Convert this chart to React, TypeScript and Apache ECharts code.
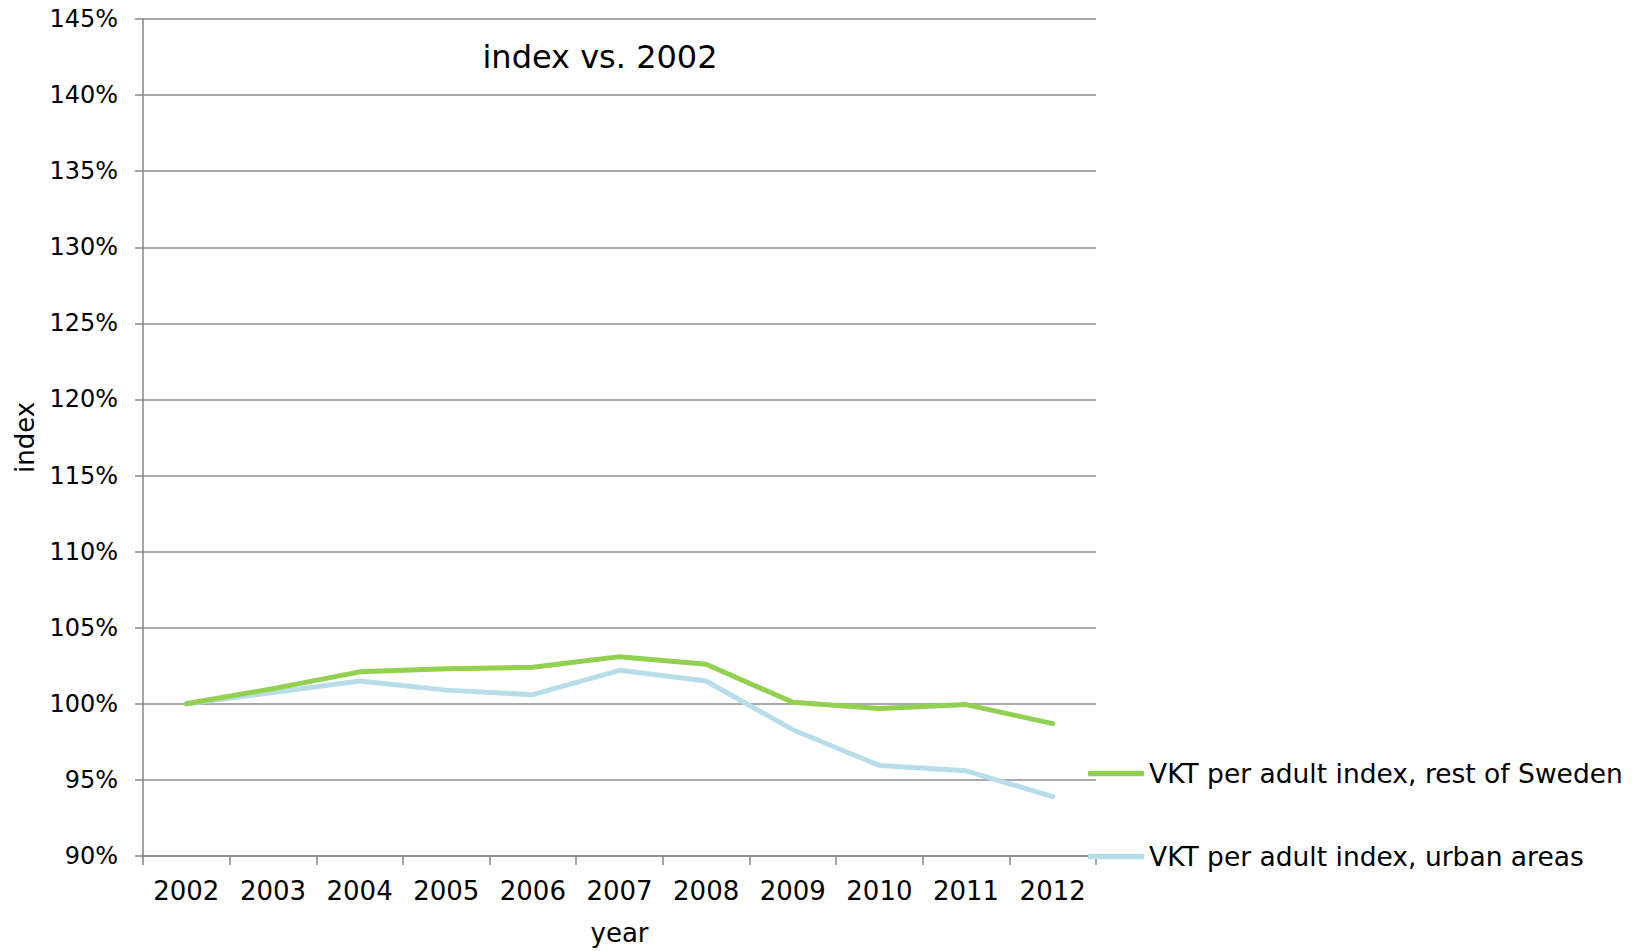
import React, { useEffect, useRef } from "react";
import * as echarts from "echarts";

const years = ["2002", "2003", "2004", "2005", "2006", "2007", "2008", "2009", "2010", "2011", "2012"];
const restOfSweden = [100.0, 101.0, 102.1, 102.3, 102.4, 103.1, 102.6, 100.1, 99.7, 99.95, 98.7];
const urbanAreas = [100.0, 100.75, 101.5, 100.9, 100.6, 102.2, 101.5, 98.3, 95.95, 95.6, 93.9];
const seriesNames = ["VKT per adult index, rest of Sweden", "VKT per adult index, urban areas"];
const seriesColors = ["#92D050", "#B7DEE8"];
const titleText = "index vs. 2002";

const FONT = "DejaVu Sans";
const AXIS_COLOR = "#868686";

export default function App() {
  const ref = useRef<HTMLDivElement>(null);
  useEffect(() => {
    if (!ref.current) return;
    const chart = echarts.init(ref.current, null, { renderer: "svg" });
    chart.setOption({
      animation: false,
      backgroundColor: "#ffffff",
      textStyle: { fontFamily: FONT, color: "#000" },
      grid: { left: 143, top: 19, right: 545, bottom: 92 },
      graphic: [
        {
          type: "text",
          x: 600,
          y: 57,
          style: {
            text: titleText,
            fontFamily: FONT,
            fontSize: 32,
            fill: "#000",
            textAlign: "center",
            textVerticalAlign: "middle",
          },
        },
      ],
      legend: {
        orient: "vertical",
        left: 1088,
        top: 760,
        padding: 0,
        icon: "roundRect",
        itemWidth: 56,
        itemHeight: 5.5,
        itemGap: 56,
        textStyle: { fontFamily: FONT, fontSize: 26.5, color: "#000", lineHeight: 27 },
        data: seriesNames,
      },
      xAxis: {
        type: "category",
        data: years,
        boundaryGap: true,
        name: "year",
        nameLocation: "middle",
        nameGap: 64,
        nameTextStyle: { fontFamily: FONT, fontSize: 26, color: "#000", lineHeight: 26 },
        axisLine: { lineStyle: { color: AXIS_COLOR, width: 1.5 } },
        axisTick: { show: true, length: 9, interval: 0, lineStyle: { color: AXIS_COLOR, width: 1.5 } },
        axisLabel: { fontFamily: FONT, fontSize: 26, color: "#000", margin: 22, interval: 0, lineHeight: 26 },
        splitLine: { show: false },
      },
      yAxis: {
        type: "value",
        min: 90,
        max: 145,
        interval: 5,
        name: "index",
        nameLocation: "middle",
        nameGap: 100,
        nameTextStyle: { fontFamily: FONT, fontSize: 26, color: "#000", lineHeight: 26 },
        axisLine: { show: true, lineStyle: { color: AXIS_COLOR, width: 1.5 } },
        axisTick: { show: true, length: 8, lineStyle: { color: AXIS_COLOR, width: 1.5 } },
        axisLabel: { fontFamily: FONT, fontSize: 24, color: "#000", margin: 25, formatter: "{value}%" },
        splitLine: { show: true, lineStyle: { color: "#8c8c8c", width: 1.5 } },
      },
      series: [
        {
          name: seriesNames[0],
          type: "line",
          data: restOfSweden,
          symbol: "none",
          showSymbol: false,
          itemStyle: { color: seriesColors[0] },
          lineStyle: { color: seriesColors[0], width: 5, cap: "round", join: "round" },
          z: 3,
        },
        {
          name: seriesNames[1],
          type: "line",
          data: urbanAreas,
          symbol: "none",
          showSymbol: false,
          itemStyle: { color: seriesColors[1] },
          lineStyle: { color: seriesColors[1], width: 5, cap: "round", join: "round" },
          z: 2,
        },
      ],
    });
    return () => chart.dispose();
  }, []);
  return (
    <div
      ref={ref}
      style={{ position: "fixed", left: 0, top: 0, width: 1641, height: 951, background: "#fff" }}
    />
  );
}
